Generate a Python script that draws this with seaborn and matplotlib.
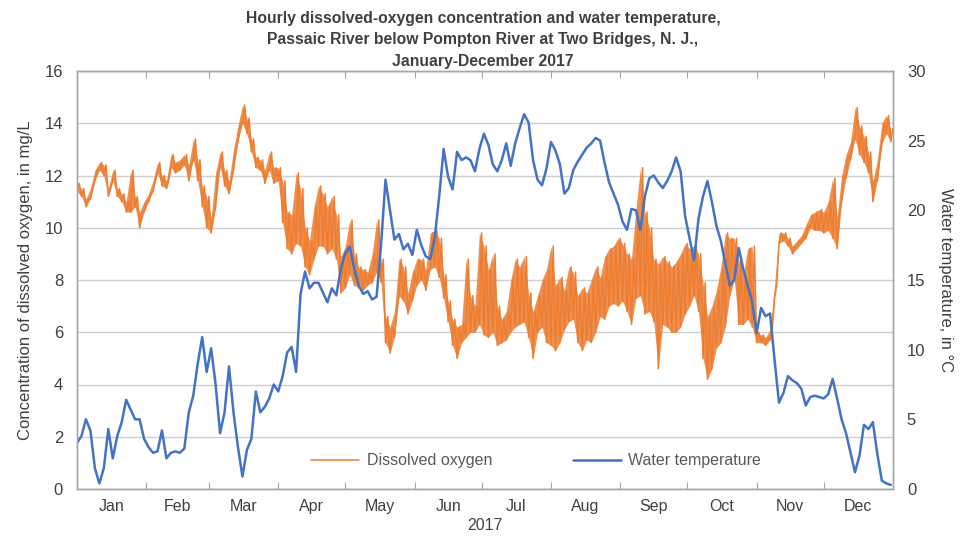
import numpy as np
import pandas as pd
import matplotlib
matplotlib.use("Agg")
import matplotlib.pyplot as plt
import seaborn as sns

# Sample days (day of year, 0 = Jan 1), every second day
days = list(range(0, 366, 2))

# Dissolved oxygen, mg/L: daily low and daily high on each sample day
do_low = [
    11.4, 11.2, 10.8, 11.1, 11.8, 12.2, 12.0, 11.2, 11.8, 11.2, 11.0, 10.6, 10.6, 10.8, 10.0, 10.6,
    11.0, 11.4, 12.1, 11.6, 11.5, 12.3, 12.1, 12.2, 12.4, 11.8, 12.6, 11.8, 10.8, 10.0, 9.8, 10.8,
    12.3, 11.6, 11.3, 12.2, 13.3, 14.0, 13.6, 12.9, 12.3, 12.2, 11.7, 12.2, 11.7, 11.8, 10.2, 9.2,
    9.0, 9.4, 9.3, 8.5, 8.2, 8.8, 9.3, 9.3, 9.0, 9.2, 8.8, 7.5, 7.7, 8.2, 7.8, 7.7,
    7.6, 7.8, 7.9, 8.3, 7.9, 5.6, 5.2, 5.8, 7.4, 7.2, 6.7, 7.2, 7.8, 8.0, 7.6, 8.4,
    8.5, 8.1, 7.3, 6.4, 5.5, 5.0, 5.6, 5.8, 6.0, 6.0, 6.3, 5.9, 5.8, 6.0, 5.5, 5.6,
    5.7, 6.0, 6.2, 6.3, 6.4, 5.8, 5.0, 6.0, 6.2, 5.6, 5.5, 5.3, 5.6, 6.1, 6.4, 6.5,
    5.6, 5.3, 5.7, 5.6, 6.0, 6.6, 6.5, 7.0, 7.1, 7.0, 7.2, 6.8, 6.3, 7.3, 7.4, 6.7,
    6.8, 6.4, 4.6, 6.3, 6.2, 6.0, 6.0, 6.2, 6.7, 7.0, 7.4, 6.8, 5.0, 4.2, 4.6, 5.4,
    5.6, 6.2, 7.4, 8.0, 6.3, 6.3, 6.5, 6.2, 5.6, 5.6, 5.5, 5.7, 7.3, 9.4, 9.5, 9.3,
    9.0, 9.2, 9.4, 9.6, 10.0, 9.9, 9.9, 9.8, 9.9, 9.6, 9.2, 11.0, 11.9, 12.6, 13.4, 12.8,
    12.5, 12.1, 11.0, 11.8, 13.2, 13.6, 13.3,
]
do_high = [
    11.7, 11.5, 11.1, 11.5, 12.2, 12.5, 12.4, 11.5, 12.2, 11.5, 11.3, 11.0, 12.2, 11.2, 10.6, 11.0,
    11.3, 11.8, 12.5, 12.0, 11.8, 12.8, 12.5, 12.6, 12.8, 12.4, 13.4, 12.6, 11.6, 11.2, 10.4, 12.1,
    12.9, 12.2, 11.8, 13.0, 13.9, 14.7, 14.2, 13.4, 12.7, 12.6, 12.2, 12.9, 12.3, 12.3, 11.8, 10.6,
    10.5, 12.1, 11.5, 10.0, 9.5, 10.8, 11.6, 11.3, 10.8, 11.2, 10.5, 8.9, 9.3, 10.3, 9.0, 8.5,
    8.4, 8.3, 9.0, 10.3, 8.8, 6.6, 6.2, 6.8, 8.8, 8.5, 7.5, 8.3, 8.8, 8.8, 8.4, 9.8,
    9.9, 9.6, 8.2, 7.2, 6.5, 6.2, 6.3, 8.8, 7.4, 7.0, 9.8, 9.3, 8.4, 9.0, 7.0, 6.5,
    6.8, 8.0, 8.8, 8.5, 8.9, 7.5, 6.8, 7.4, 8.0, 8.4, 9.3, 7.8, 8.1, 7.6, 8.5, 8.3,
    7.4, 7.7, 7.5, 8.0, 8.5, 8.1, 8.9, 9.2, 9.3, 9.6, 9.4, 9.0, 8.8, 10.7, 12.3, 10.6,
    10.0, 8.8, 8.6, 8.9, 8.7, 8.5, 8.7, 9.0, 9.4, 9.2, 9.3, 9.0, 7.9, 6.6, 7.0, 7.6,
    8.5, 9.8, 9.6, 9.6, 8.8, 8.2, 9.2, 9.3, 6.0, 5.9, 5.8, 6.1, 7.8, 9.8, 9.8, 9.6,
    9.3, 9.5, 9.7, 10.1, 10.5, 10.6, 10.7, 10.6, 11.0, 11.9, 10.4, 12.0, 12.8, 13.3, 14.6, 13.9,
    13.5, 12.9, 11.8, 12.6, 14.0, 14.3, 13.8,
]

# Water temperature, degrees Celsius, on each sample day
water_temp = [
    3.3, 3.8, 5.0, 4.2, 1.5, 0.4, 1.5, 4.3, 2.2, 3.8, 4.8, 6.4, 5.7, 5.0, 5.0, 3.6,
    3.0, 2.6, 2.7, 4.2, 2.2, 2.6, 2.7, 2.6, 2.9, 5.5, 6.7, 9.0, 10.9, 8.4, 10.1, 7.5,
    4.0, 5.5, 8.8, 5.5, 3.0, 0.9, 2.8, 3.6, 7.0, 5.5, 5.9, 6.5, 7.5, 7.0, 8.1, 9.8,
    10.2, 8.4, 14.0, 15.6, 14.4, 14.8, 14.8, 14.1, 13.4, 14.4, 13.9, 15.8, 16.9, 17.4, 15.8, 14.6,
    14.0, 14.2, 13.6, 13.8, 17.5, 22.2, 20.0, 17.9, 18.3, 17.2, 17.6, 16.8, 18.6, 17.5, 16.7, 16.5,
    18.0, 21.0, 24.4, 22.4, 21.5, 24.2, 23.6, 23.8, 23.6, 22.8, 24.4, 25.5, 24.7, 23.3, 22.8, 23.6,
    24.8, 23.2, 24.8, 25.9, 26.9, 26.3, 23.6, 22.2, 21.8, 23.0, 24.9, 24.3, 23.3, 21.2, 21.6, 22.9,
    23.5, 24.0, 24.5, 24.8, 25.2, 25.0, 23.4, 22.0, 21.2, 20.4, 19.2, 18.6, 20.1, 20.0, 18.6, 21.0,
    22.3, 22.5, 22.0, 21.6, 22.1, 22.8, 23.8, 22.8, 19.6, 18.0, 16.4, 19.4, 21.0, 22.1, 20.6, 18.9,
    17.8, 16.2, 14.6, 15.0, 17.3, 15.8, 14.6, 13.4, 11.2, 13.0, 12.4, 12.6, 9.3, 6.2, 6.9, 8.1,
    7.8, 7.6, 7.2, 6.0, 6.6, 6.7, 6.6, 6.5, 6.8, 7.9, 6.5, 5.0, 4.0, 2.6, 1.2, 2.4,
    4.6, 4.3, 4.8, 2.5, 0.6, 0.4, 0.3,
]

month_names = ["Jan", "Feb", "Mar", "Apr", "May", "Jun",
               "Jul", "Aug", "Sep", "Oct", "Nov", "Dec"]
month_lengths = [31, 28, 31, 30, 31, 30, 31, 31, 30, 31, 30, 31]

# Daily low in the early morning, daily high in the afternoon
do_df = pd.DataFrame({
    "day": np.concatenate([np.array(days, float), np.array(days, float) + 1.0]),
    "value": np.concatenate([do_low, do_high]),
}).sort_values("day")
temp_df = pd.DataFrame({"day": days, "value": water_temp})

sns.set_style("white")
plt.rcParams["font.family"] = ["Liberation Sans", "DejaVu Sans"]

ORANGE = "#ED7D31"
BLUE = "#4472C4"
TEXT = "#404040"
FRAME = "#a6a6a6"
GRID = "#cfcfcf"

fig = plt.figure(figsize=(9.6, 5.42), dpi=100)
ax = fig.add_axes([77 / 960, 53 / 542, 816 / 960, 418 / 542])
ax2 = ax.twinx()

# Daily range of dissolved oxygen as a band, with the low/high trace on top
ax.fill_between(days, do_low, do_high, color=ORANGE, linewidth=0, alpha=0.85)
sns.lineplot(data=do_df, x="day", y="value", ax=ax, color=ORANGE,
             linewidth=1.1, estimator=None, sort=False, label="Dissolved oxygen",
             legend=False)
sns.lineplot(data=temp_df, x="day", y="value", ax=ax2, color=BLUE,
             linewidth=1.8, estimator=None, sort=False, label="Water temperature",
             legend=False)

ax.set_xlim(0, 365)
ax.set_ylim(0, 16)
ax2.set_ylim(0, 30)
ax.set_yticks(range(0, 17, 2))
ax2.set_yticks(range(0, 31, 5))

# Month boundaries as ticks, month names centred in each month
bounds = np.concatenate([[0], np.cumsum(month_lengths)])
mids = (bounds[:-1] + bounds[1:]) / 2
ax.set_xticks(bounds[1:-1])
ax.set_xticklabels([])
ax.set_xticks(mids, minor=True)
ax.set_xticklabels(month_names, minor=True, fontsize=11.5, color=TEXT)
ax.tick_params(axis="x", which="major", direction="in", length=5, color=FRAME,
               top=True, bottom=True)
ax.tick_params(axis="x", which="minor", length=0, pad=7)
ax.tick_params(axis="y", length=0, labelsize=12, labelcolor=TEXT, pad=10)
ax2.tick_params(axis="y", length=0, labelsize=12, labelcolor=TEXT, pad=10)

ax.grid(axis="y", color=GRID, linewidth=1.0)
ax.set_axisbelow(True)
for a in (ax, ax2):
    for s in a.spines.values():
        s.set_color(FRAME)
        s.set_linewidth(1.0)

ax.set_xlabel("2017", fontsize=11.5, color=TEXT, labelpad=3)
ax.set_ylabel("Concentration of dissolved oxygen, in mg/L", fontsize=12,
              color=TEXT, labelpad=8)
ax2.set_ylabel("Water temperature, in °C", fontsize=12, color=TEXT,
               rotation=270, labelpad=20)

fig.suptitle("Hourly dissolved-oxygen concentration and water temperature,\n"
             "Passaic River below Pompton River at Two Bridges, N. J.,\n"
             "January-December 2017",
             x=483 / 960, y=0.98, fontsize=11.3, fontweight="bold", color=TEXT,
             linespacing=1.55)

h1, l1 = ax.get_legend_handles_labels()
h2, l2 = ax2.get_legend_handles_labels()
ax2.legend(h1 + h2, l1 + l2, loc="center", bbox_to_anchor=(0.563, 0.067),
           ncol=2, frameon=False, handlelength=3.0, handletextpad=0.5,
           columnspacing=5.0, fontsize=11.5, labelcolor="#595959")

fig.savefig("out.png", dpi=100)
